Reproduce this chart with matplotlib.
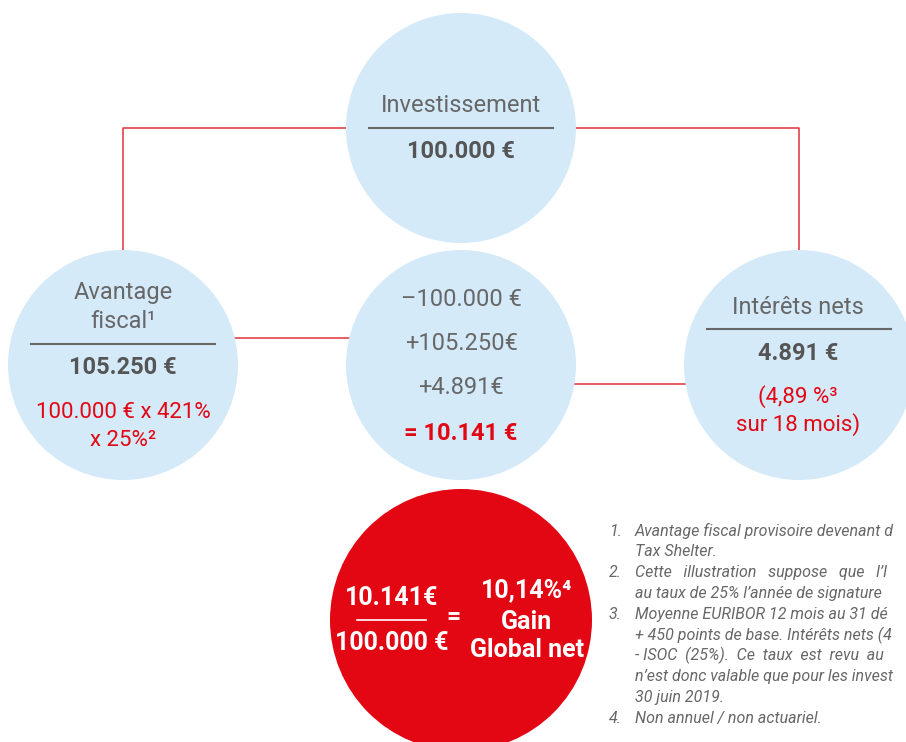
import matplotlib
matplotlib.use('Agg')
import matplotlib.pyplot as plt
from matplotlib.patches import Circle

plt.rcParams['font.family'] = ['Roboto', 'DejaVu Sans']

# contenu du schéma
invest_label = 'Investissement'
invest_value = '100.000 €'
avantage_label = ['Avantage', 'fiscal¹']
avantage_value = '105.250 €'
avantage_calc = ['100.000 € x 421%', 'x 25%²']
interets_label = 'Intérêts nets'
interets_value = '4.891 €'
interets_calc = ['(4,89 %³', 'sur 18 mois)']
calc_lines = ['–100.000 €', '+105.250€', '+4.891€']
calc_total = '= 10.141 €'
gain_num = '10.141€'
gain_den = '100.000 €'
gain_pct = ['10,14%⁴', 'Gain', 'Global net']
# notes coupées au bord droit comme dans l'original
footnotes = [
    ('1.', ['Avantage fiscal provisoire devenant d', 'Tax Shelter.']),
    ('2.', ['Cette   illustration   suppose   que   l’I',
            'au taux de 25% l’année de signature']),
    ('3.', ['Moyenne EURIBOR 12 mois au 31 dé',
            '+ 450 points de base. Intérêts nets (4',
            '- ISOC  (25%).  Ce  taux  est  revu  au',
            'n’est donc valable que pour les invest',
            '30 juin 2019.']),
    ('4.', ['Non annuel / non actuariel.']),
]

BLUE = '#d4eaf9'
RED = '#e30613'
LINE_RED = '#e2313b'
GREY = '#676767'
DARK = '#555555'

fig = plt.figure(figsize=(9.06, 7.42), dpi=100)
ax = fig.add_axes([0, 0, 1, 1])
ax.set_xlim(0, 906)
ax.set_ylim(742, 0)
ax.axis('off')

# lignes de liaison
lk = dict(color=LINE_RED, lw=1.1, zorder=1, solid_capstyle='butt')
ax.plot([123, 123, 461], [250, 128, 128], **lk)
ax.plot([461, 799, 799], [128, 128, 250], **lk)
ax.plot([230, 374], [338, 338], **lk)
ax.plot([388, 374, 374, 388], [320, 320, 355, 355], **lk)
ax.plot([533, 544, 544, 533], [367, 367, 402, 402], **lk)
ax.plot([544, 690], [384, 384], **lk)

# cercles
for cx, cy in [(461, 128), (123, 365), (461, 365), (799, 365)]:
    ax.add_patch(Circle((cx, cy), 115, color=BLUE, zorder=2, lw=0))
ax.add_patch(Circle((461, 620), 131, color=RED, zorder=2, lw=0))

def txt(x, y, s, size, color=GREY, weight='normal', **kw):
    ax.text(x, y, s, fontsize=size, color=color, fontweight=weight,
            ha=kw.pop('ha', 'center'), va='center', zorder=3, **kw)

# investissement
txt(461, 106, invest_label, 17)
ax.plot([369, 553], [128, 128], color=GREY, lw=1.5, zorder=3)
txt(461, 151, invest_value, 17, DARK, 'bold')

# avantage fiscal
txt(123, 293, avantage_label[0], 17)
txt(123, 322, avantage_label[1], 17)
ax.plot([31, 215], [344, 344], color=GREY, lw=1.5, zorder=3)
txt(123, 367, avantage_value, 17, DARK, 'bold')
txt(123, 412, avantage_calc[0], 16, RED)
txt(123, 440, avantage_calc[1], 16, RED)

# calcul central
for y, s in zip([300, 344, 388], calc_lines):
    txt(461, y, s, 17)
txt(461, 433, calc_total, 17, RED, 'bold')

# intérêts nets
txt(798, 307, interets_label, 17)
ax.plot([707, 891], [329, 329], color=GREY, lw=1.5, zorder=3)
txt(798, 353, interets_value, 17, DARK, 'bold')
txt(798, 397, interets_calc[0], 16, RED)
txt(798, 425, interets_calc[1], 16, RED)

# gain global
txt(392, 598, gain_num, 18, 'white', 'bold')
ax.plot([357, 426], [620, 620], color='white', lw=1.2, zorder=3)
txt(392, 643, gain_den, 18, 'white', 'bold')
txt(453, 617, '=', 18, 'white', 'bold')
for y, s in zip([590, 622, 650], gain_pct):
    txt(527, y, s, 18, 'white', 'bold')

# notes
y = 531
for num, lines in footnotes:
    ax.text(609, y, num, fontsize=11.5, color=GREY, style='italic',
            va='center', ha='left')
    for line in lines:
        ax.text(635, y, line, fontsize=11.5, color=GREY, style='italic',
                va='center', ha='left')
        y += 20.8

fig.savefig('out.png', dpi=100)
